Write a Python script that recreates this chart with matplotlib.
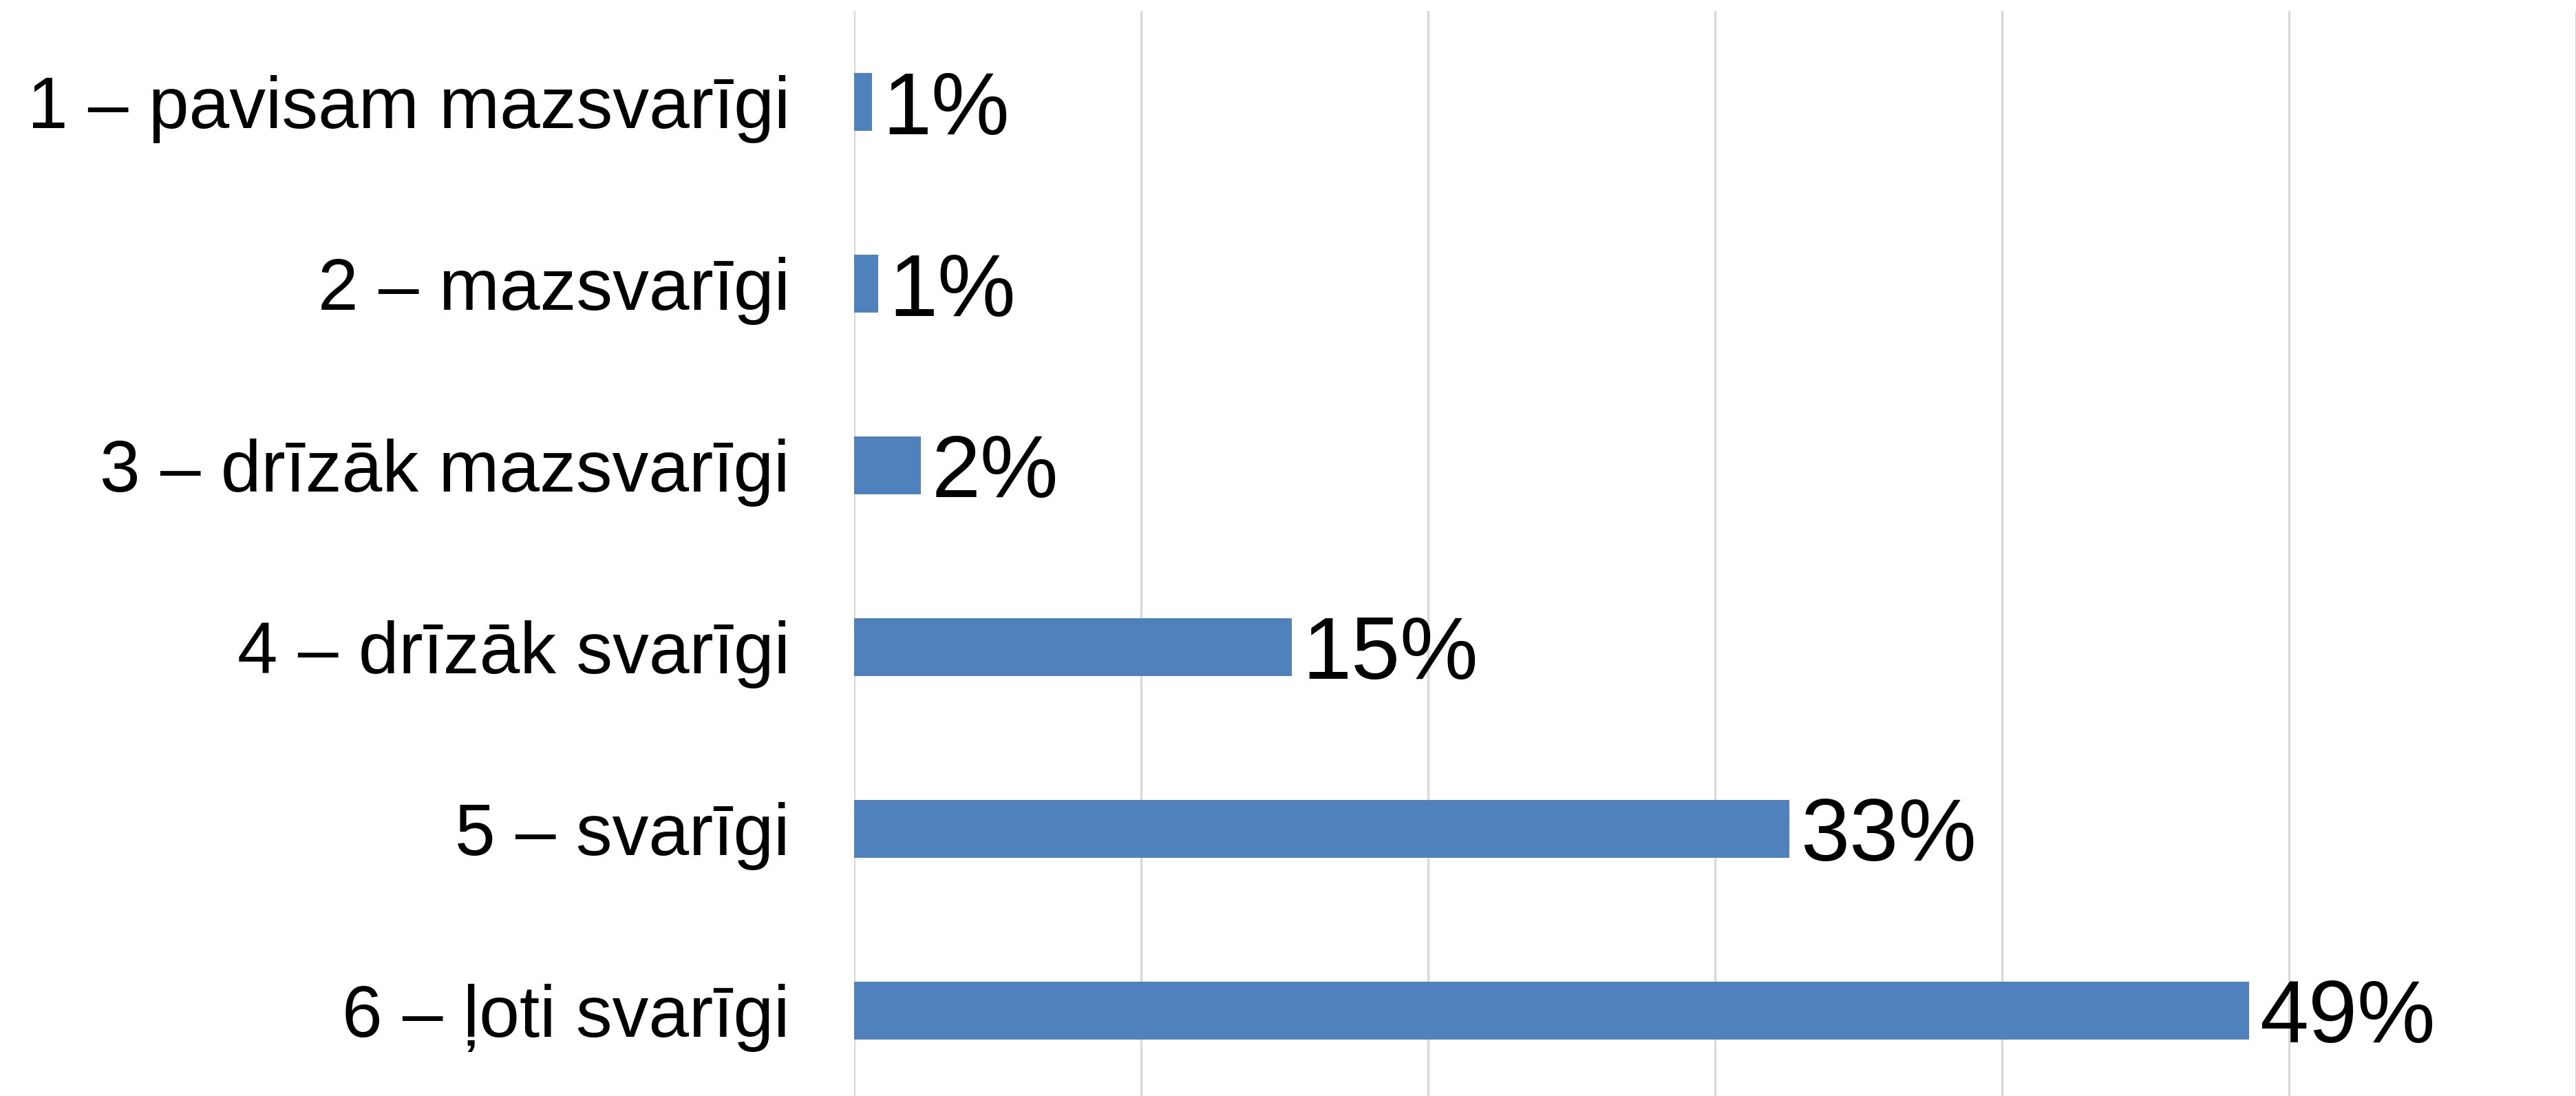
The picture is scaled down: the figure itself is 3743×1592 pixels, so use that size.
import matplotlib
matplotlib.use("Agg")
import matplotlib.pyplot as plt

categories = ["1 – pavisam mazsvarīgi", "2 – mazsvarīgi", "3 – drīzāk mazsvarīgi",
              "4 – drīzāk svarīgi", "5 – svarīgi", "6 – ļoti svarīgi"]
values = [0.62, 0.83, 2.33, 15.25, 32.6, 48.6]
value_labels = ["1%", "1%", "2%", "15%", "33%", "49%"]
xticks = [0, 10, 20, 30, 40, 50, 60]

plt.rcParams['font.family'] = ['Liberation Sans', 'DejaVu Sans']

W, H, DPI = 3743, 1592, 100
fig = plt.figure(figsize=(W / DPI, H / DPI), dpi=DPI)
left = 1241 / W
top_px, bottom_px = 16, 1600
ax = fig.add_axes([left, 1 - bottom_px / H, 1 - left, (bottom_px - top_px) / H])

ypos = list(range(len(categories)))
ax.barh(ypos, values, height=0.315, color="#4F81BD", zorder=3)
ax.set_ylim(len(categories) - 0.5, -0.5)
ax.set_xlim(0, 60)
ax.set_xticks(xticks)
ax.set_xticklabels([])
ax.xaxis.grid(True, color="#D9D9D9", linewidth=2.5, zorder=0)
ax.set_yticks(ypos)
ax.set_yticklabels(categories, fontsize=76)
ax.tick_params(axis="y", length=0, pad=67)
ax.tick_params(axis="x", length=0)
for s in ax.spines.values():
    s.set_visible(False)

for y, v, lab in zip(ypos, values, value_labels):
    ax.annotate(lab, xy=(v, y), xytext=(11, 0), textcoords="offset points",
                ha="left", va="center_baseline", fontsize=92, color="black")

fig.savefig("out.png", dpi=DPI)
